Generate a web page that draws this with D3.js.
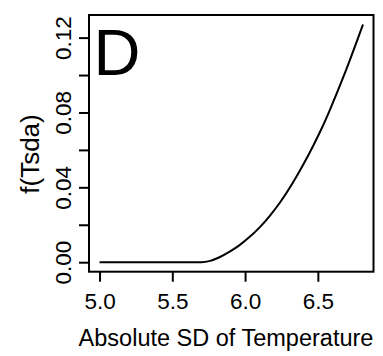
<!DOCTYPE html>
<html><head><meta charset="utf-8">
<script src="https://cdn.jsdelivr.net/npm/d3@7"></script>
<style>body{margin:0;background:#fff;} text{font-family:"Liberation Sans",Arial,sans-serif;fill:#000;}</style>
</head><body>
<svg id="c" width="383" height="356"></svg>
<script>
const tsda = [5.0, 5.3, 5.6, 5.70, 5.76, 5.82, 5.90, 5.96, 6.03, 6.10, 6.17, 6.24, 6.33, 6.40, 6.47, 6.53, 6.58, 6.68, 6.81];
const fTsda = [0, 0, 0, 0, 0.0007, 0.0025, 0.0059, 0.0090, 0.0134, 0.0186, 0.0248, 0.0319, 0.0427, 0.0522, 0.0625, 0.0721, 0.0809, 0.0999, 0.1270];
const xTicks = [5.0, 5.5, 6.0, 6.5];
const yTicks = [0, 0.02, 0.04, 0.06, 0.08, 0.10, 0.12];
const yLabelTicks = [0, 0.04, 0.08, 0.12];
const panelLabel = "D";
const xTitle = "Absolute SD of Temperature";
const yTitle = "f(Tsda)";

const svg = d3.select("#c");
const L = 89, R = 373.5, T = 15, B = 271.7;
const xe = d3.extent(tsda), ye = d3.extent(fTsda);
const px = (xe[1]-xe[0])*0.04, py = (ye[1]-ye[0])*0.04;
const x = d3.scaleLinear().domain([xe[0]-px, xe[1]+px]).range([L, R]);
const y = d3.scaleLinear().domain([ye[0]-py, ye[1]+py]).range([B, T]);
const FF = "Liberation Sans, Arial, sans-serif";

// x axis
const xa = svg.append("g").attr("transform", `translate(0,${B})`)
  .call(d3.axisBottom(x).tickValues(xTicks).tickSize(10).tickPadding(11).tickFormat(d3.format(".1f")));
xa.select(".domain").remove();
xa.selectAll("line").attr("stroke","#000").attr("stroke-width",2);
xa.selectAll("text").attr("font-size",22.5).attr("font-family",FF).attr("fill","#000");

// y axis
const ya = svg.append("g").attr("transform", `translate(${L},0)`)
  .call(d3.axisLeft(y).tickValues(yTicks).tickSize(10).tickFormat(d => yLabelTicks.includes(d) ? d3.format(".2f")(d) : ""));
ya.select(".domain").remove();
ya.selectAll("line").attr("stroke","#000").attr("stroke-width",2);
ya.selectAll("text").attr("font-size",22.5).attr("font-family",FF).attr("fill","#000")
  .attr("transform","rotate(-90)").attr("x",0).attr("y",-18).attr("dy","0").attr("text-anchor","middle");

// box
svg.append("rect").attr("x",L).attr("y",T).attr("width",R-L).attr("height",B-T)
  .attr("fill","none").attr("stroke","#000").attr("stroke-width",2);

// curve
const line = d3.line().x((d,i)=>x(tsda[i])).y(d=>y(d)).curve(d3.curveMonotoneX);
svg.append("path").datum(fTsda).attr("d",line).attr("fill","none").attr("stroke","#000").attr("stroke-width",2);

// panel label
svg.append("text").attr("x",93.5).attr("y",75).attr("font-size",65).text(panelLabel);

// titles
svg.append("text").attr("x",226).attr("y",345.5).attr("text-anchor","middle").attr("font-size",23.5).text(xTitle);
svg.append("text").attr("transform",`translate(39,154) rotate(-90)`).attr("text-anchor","middle").attr("font-size",26).text(yTitle);
</script>
</body></html>
